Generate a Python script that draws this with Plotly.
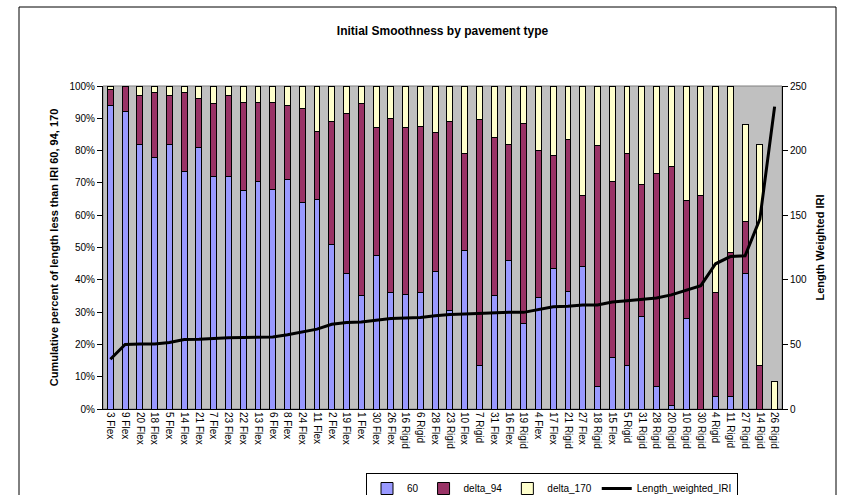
import plotly.graph_objects as go

categories = ["3 Flex", "9 Flex", "20 Flex", "18 Flex", "5 Flex", "14 Flex", "21 Flex", "7 Flex",
              "23 Flex", "22 Flex", "13 Flex", "6 Flex", "8 Flex", "24 Flex", "11 Flex", "2 Flex",
              "19 Flex", "1 Flex", "30 Flex", "26 Flex", "16 Rigid", "6 Rigid", "28 Flex", "23 Rigid",
              "10 Flex", "7 Rigid", "31 Flex", "16 Flex", "19 Rigid", "4 Flex", "17 Flex", "21 Rigid",
              "27 Flex", "18 Rigid", "15 Flex", "5 Rigid", "31 Rigid", "28 Rigid", "20 Rigid", "10 Rigid",
              "30 Rigid", "4 Rigid", "11 Rigid", "27 Rigid", "14 Rigid", "26 Rigid"]

pct_60 = [94, 92, 82, 78, 82, 73.5, 81, 72, 72, 67.5, 70.5, 68, 71, 64, 65, 51,
          42, 35, 47.5, 36, 35.5, 36, 42.5, 30.5, 49, 13.5, 35, 46, 26.5, 34.5, 43.5, 36.5,
          44, 7, 16, 13.5, 28.5, 7, 1.2, 28, 0, 3.8, 3.8, 42, 0, 0]

delta_94 = [5, 8, 15, 20, 15, 24.5, 15, 22.5, 25, 27.5, 24.5, 27, 23, 29, 21, 38,
            49.5, 59.5, 39.5, 54, 51.5, 51.5, 43, 58.5, 30, 76, 49, 36, 62, 45.5, 35, 47,
            22, 74.5, 54.5, 65.5, 41, 66, 73.8, 36.5, 66, 32.2, 44.7, 16, 13.5, 0]

delta_170 = [1, 0, 3, 2, 3, 2, 4, 5.5, 3, 5, 5, 5, 6, 7, 14, 11,
             8.5, 5.5, 13, 10, 13, 12.5, 14.5, 11, 21, 10.5, 16, 18, 11.5, 20, 21.5, 16.5,
             34, 18.5, 29.5, 21, 30.5, 27, 25, 35.5, 34, 64, 51.5, 30, 68.5, 8.5]

length_weighted_iri = [38.5, 50, 50.4, 50.4, 51.5, 53.8, 54, 54.8, 55.1, 55.4, 55.8, 55.8, 57.4, 59.7, 61.8, 65.6,
                       67, 67.3, 68.8, 70.1, 70.4, 70.9, 72.2, 73.2, 73.5, 74, 74.5, 74.8, 74.8, 77.1, 79.2, 79.5,
                       80.5, 80.5, 82.8, 83.8, 84.6, 85.9, 88.3, 91.6, 95.5, 112.4, 118, 118.6, 147, 234]

left_ticks = list(range(0, 101, 10))
left_ticktext = [f"{v}%" for v in left_ticks]
right_ticks = list(range(0, 251, 50))

FONT = "Liberation Sans, Arial, sans-serif"

fig = go.Figure()
fig.add_trace(go.Bar(x=categories, y=pct_60, name="60",
                     marker=dict(color="#9999FF", line=dict(color="black", width=1))))
fig.add_trace(go.Bar(x=categories, y=delta_94, name="delta_94",
                     marker=dict(color="#993366", line=dict(color="black", width=1))))
fig.add_trace(go.Bar(x=categories, y=delta_170, name="delta_170",
                     marker=dict(color="#FFFFCC", line=dict(color="black", width=1))))
fig.add_trace(go.Scatter(x=categories, y=length_weighted_iri, name="Length_weighted_IRI",
                         mode="lines", line=dict(color="black", width=3), yaxis="y2"))

L, R, T, B = 103, 782, 86, 409
W, H = 842, 495
pw, ph = R - L, B - T

def px(x):
    return (x - L) / pw

def py(y):
    return (B - y) / ph

fig.update_layout(
    width=W, height=H,
    margin=dict(l=L, r=W - R, t=T, b=H - B, autoexpand=False),
    paper_bgcolor="white",
    plot_bgcolor="#C0C0C0",
    barmode="stack",
    bargap=0.6,
    font=dict(family=FONT, size=10, color="black"),
    title=dict(text="<b>Initial Smoothness by pavement type</b>", font=dict(size=12, family=FONT),
               x=0.5, xref="paper", xanchor="center", y=1 - 31 / H, yanchor="middle"),
    xaxis=dict(tickangle=90, showline=True, linecolor="black", linewidth=1,
               showgrid=False, ticks="", tickfont=dict(size=10), zeroline=False),
    yaxis=dict(range=[0, 100], tickvals=left_ticks, ticktext=left_ticktext, showgrid=False,
               showline=True, linecolor="black", linewidth=1, ticks="outside", ticklen=5,
               tickcolor="black", zeroline=False, tickfont=dict(size=10),
               title=dict(text="<b>Cumulative percent of length less than IRI 60, 94, 170</b>",
                          font=dict(size=11), standoff=8)),
    yaxis2=dict(range=[0, 250], tickvals=right_ticks, overlaying="y", side="right", showgrid=False,
                showline=True, linecolor="black", linewidth=1, ticks="outside", ticklen=5,
                tickcolor="black", zeroline=False, tickfont=dict(size=10),
                title=dict(text="<b>Length Weighted IRI</b>", font=dict(size=11), standoff=10)),
    legend=dict(orientation="h", x=px(552), xanchor="center", y=py(473), yanchor="top",
                bordercolor="black", borderwidth=1, bgcolor="white", traceorder="normal",
                font=dict(size=10), itemwidth=30, tracegroupgap=0),
    showlegend=True,
    shapes=[
        dict(type="rect", xref="paper", yref="paper", x0=0, x1=1, y0=0, y1=1,
             line=dict(color="#808080", width=1), layer="below"),
        dict(type="line", xref="paper", yref="paper", x0=px(19), x1=px(19), y0=py(7), y1=py(520),
             line=dict(color="black", width=1), layer="above"),
        dict(type="line", xref="paper", yref="paper", x0=px(19), x1=px(836), y0=py(7), y1=py(7),
             line=dict(color="black", width=1), layer="above"),
        dict(type="line", xref="paper", yref="paper", x0=px(836), x1=px(836), y0=py(7), y1=py(520),
             line=dict(color="black", width=1), layer="above"),
    ],
)

fig.write_html(
    "out.html",
    config={"displayModeBar": False},
    post_script="document.body.style.margin='0';document.body.style.overflow='hidden';",
)
